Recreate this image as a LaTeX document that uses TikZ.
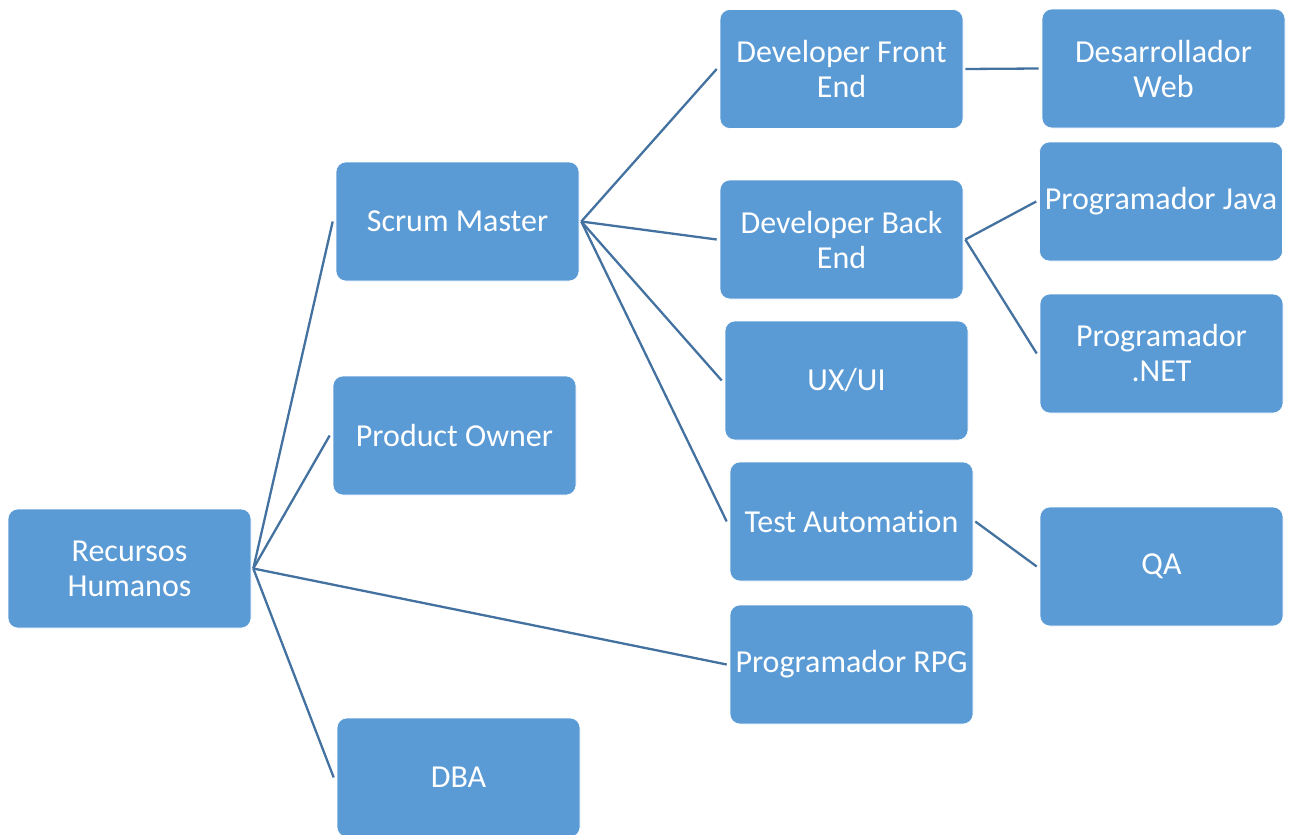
\documentclass[tikz,border=0pt]{standalone}
\usepackage{fontspec}
\setmainfont{Carlito}[Ligatures=NoCommon]
\definecolor{boxblue}{RGB}{91,155,213}
\definecolor{linkblue}{RGB}{68,114,160}
\begin{document}
\begin{tikzpicture}[x=1pt,y=-1pt,
  role/.style={draw=white, line width=0.6pt, fill=boxblue, rounded corners=10pt,
    minimum width=243pt, minimum height=119pt, inner sep=1pt,
    text=white, align=center, font=\fontsize{32}{35}\selectfont},
  link/.style={draw=linkblue, line width=2.3pt}]
\useasboundingbox (0,0) rectangle (1290,835);

% boxes
\node[role] (rh)   at (129.5,568.5) {Recursos\\Humanos};
\node[role] (sm)   at (457.5,221.5) {Scrum Master};
\node[role] (po)   at (454.5,435.5) {Product Owner};
\node[role] (dba)  at (458.5,777.5) {DBA};
\node[role] (dfe)  at (841.5,69)    {Developer Front\\End};
\node[role] (dbe)  at (841.5,239.5) {Developer Back\\End};
\node[role] (ux)   at (846.5,380.5) {UX/UI};
\node[role] (ta)   at (851.5,521.5) {Test Automation};
\node[role] (rpg)  at (851.5,664.5) {Programador RPG};
\node[role] (web)  at (1163.5,68.5) {Desarrollador\\Web};
\node[role] (java) at (1161,201.5)  {Programador Java};
\node[role] (net)  at (1161.5,353.5) {Programador\\.NET};
\node[role] (qa)   at (1161.5,566.5) {QA};

% connectors
\foreach \p/\c in {rh/sm, rh/po, rh/dba, rh/rpg,
                   sm/dfe, sm/dbe, sm/ux, sm/ta,
                   dfe/web, dbe/java, dbe/net, ta/qa}
  \draw[link] ([xshift=2pt]\p.east) -- ([xshift=-3pt]\c.west);
\end{tikzpicture}
\end{document}
